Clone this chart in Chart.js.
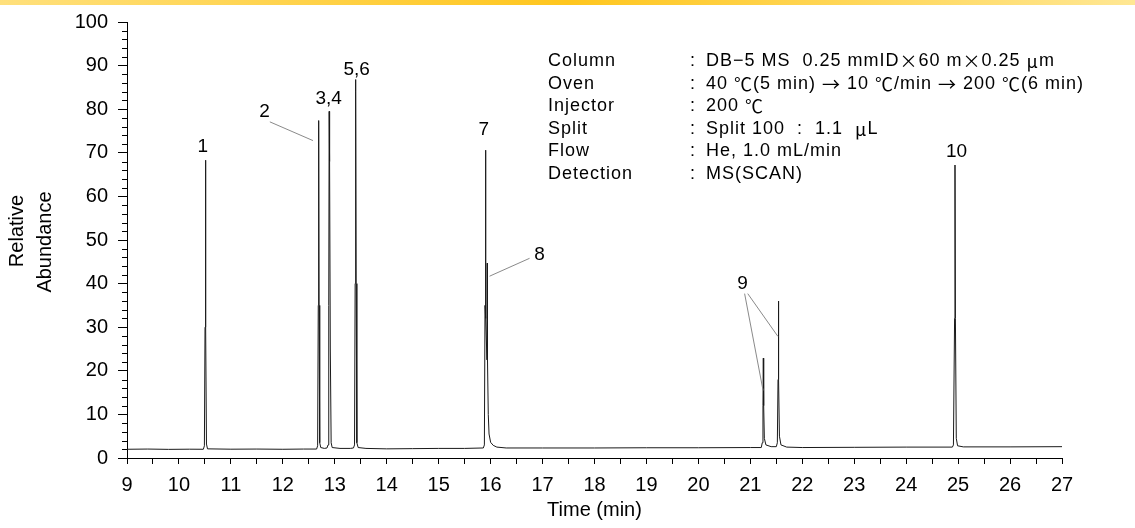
<!DOCTYPE html>
<html>
<head>
<meta charset="utf-8">
<script src="https://cdn.jsdelivr.net/npm/chart.js@4.4.1/dist/chart.umd.min.js"></script>
<style>
  html, body { margin: 0; padding: 0; background: #fff; }
  #wrap { width: 1135px; height: 528px; position: relative; }
</style>
</head>
<body>
<div id="wrap"><canvas id="myChart"></canvas></div>
<script>
// chromatogram trace (time in min, relative abundance)
const times = [
  9.00, 9.40, 9.80, 10.20, 10.47,
  10.49, 10.502, 10.51, 10.518, 10.53, 10.55, 11.00, 11.50, 12.00, 12.40, 12.65,
  12.67, 12.682, 12.69, 12.698, 12.71, 12.73, 12.80, 12.85,
  12.87, 12.884, 12.892, 12.896, 12.900, 12.904, 12.914, 12.93, 12.95, 13.10, 13.30, 13.36,
  13.38, 13.392, 13.40, 13.404, 13.412, 13.425, 13.45, 13.60, 14.00, 14.50, 15.00, 15.50, 15.86,
  15.88, 15.892, 15.90, 15.91, 15.93, 15.935, 15.94, 15.955, 15.97, 16.00, 16.05, 16.12, 16.30,
  17.00, 18.00, 19.00, 20.00, 21.00, 21.21,
  21.23, 21.243, 21.25, 21.257, 21.27, 21.30, 21.40, 21.50,
  21.52, 21.533, 21.54, 21.547, 21.56, 21.59, 21.70, 22.00, 23.00, 24.00, 24.89,
  24.91, 24.932, 24.94, 24.948, 24.965, 24.99, 25.10, 26.00, 27.00
];
const abundance = [
  2.00, 2.05, 1.98, 2.02, 2.00,
  2.8, 30, 68.3, 30, 3.2, 2.1, 2.02, 2.05, 2.00, 2.05, 2.05,
  2.8, 35, 77.4, 35, 3.5, 2.4, 2.2, 2.3,
  3.0, 35, 79.5, 68.7, 79.0, 68.0, 25, 3.5, 2.4, 2.2, 2.2, 2.3,
  3.0, 40, 86.8, 84, 40, 3.5, 2.4, 2.2, 2.1, 2.15, 2.2, 2.2, 2.3,
  3.0, 35, 70.6, 32, 22.5, 44.7, 22.5, 10, 5.5, 3.6, 2.9, 2.5, 2.3,
  2.3, 2.3, 2.35, 2.35, 2.4, 2.4,
  3.5, 12, 22.9, 12, 4.5, 3.0, 2.6, 2.6,
  3.5, 18, 36.0, 18, 5, 3.0, 2.5, 2.4, 2.45, 2.5, 2.5,
  3.0, 32, 67.2, 32, 4.5, 2.8, 2.55, 2.55, 2.6
];

// peak labels (placed in data coordinates)
const peakLabels = ["1", "2", "3,4", "5,6", "7", "8", "9", "10"];
const labelTimes = [10.457, 11.65, 12.883, 13.42, 15.87, 16.94, 20.85, 24.97];
const labelHeights = [71.4, 79.3, 82.3, 89.1, 75.2, 46.7, 40.0, 70.3];
// leader lines: [t1, v1, t2, v2]
const leaders = [
  [11.75, 77.1, 12.58, 72.8],
  [16.75, 45.8, 15.98, 41.7],
  [20.89, 37.7, 21.245, 15.5],
  [20.95, 37.7, 21.53, 27.9]
];

// conditions block
const condNames = ["Column", "Oven", "Injector", "Split", "Flow", "Detection"];
const condValues = [
  "DB−5 MS  0.25 mmID×60 m×0.25 μm",
  "40 ℃(5 min) → 10 ℃/min → 200 ℃(6 min)",
  "200 ℃",
  "Split 100  :  1.1  μL",
  "He, 1.0 mL/min",
  "MS(SCAN)"
];

const FONT = "'Liberation Sans', 'Noto Sans CJK JP', sans-serif";
const CJK = "'Noto Sans CJK JP', sans-serif";
const WIDE = "→×μ℃";

// draw text char by char, full-width symbols from the CJK font
function drawMixed(ctx, text, x, y, size) {
  for (const ch of text) {
    ctx.font = size + "px " + (WIDE.includes(ch) ? CJK : FONT);
    ctx.fillText(ch, x, y);
    x += ctx.measureText(ch).width + 1;
  }
}

const extras = {
  id: "extras",
  beforeDraw(chart) {
    const ctx = chart.ctx;
    ctx.save();
    ctx.fillStyle = "#fff";
    ctx.fillRect(0, 0, chart.width, chart.height);
    let band = ctx.createLinearGradient(0, 0, chart.width, 0);
    band.addColorStop(0, "#FFE07C");
    band.addColorStop(0.5, "#FFC61E");
    band.addColorStop(1, "#FFE793");
    ctx.fillStyle = band;
    ctx.fillRect(0, 0, chart.width, 5);
    ctx.restore();
  },
  afterDraw(chart) {
    const ctx = chart.ctx;
    const xs = chart.scales.x, ys = chart.scales.y;
    ctx.save();

    // minor y ticks
    ctx.strokeStyle = "#000";
    ctx.lineWidth = 1;
    for (let v = 0; v <= 100; v += 2) {
      if (v % 10 === 0) continue;
      const py = Math.round(ys.getPixelForValue(v)) + 0.5;
      ctx.beginPath();
      ctx.moveTo(xs.left - 5, py);
      ctx.lineTo(xs.left, py);
      ctx.stroke();
    }

    // leader lines
    ctx.strokeStyle = "#8a8a8a";
    leaders.forEach(l => {
      ctx.beginPath();
      ctx.moveTo(xs.getPixelForValue(l[0]), ys.getPixelForValue(l[1]));
      ctx.lineTo(xs.getPixelForValue(l[2]), ys.getPixelForValue(l[3]));
      ctx.stroke();
    });

    // peak labels
    ctx.fillStyle = "#000";
    ctx.font = "19px " + FONT;
    ctx.textAlign = "center";
    ctx.textBaseline = "middle";
    peakLabels.forEach((txt, i) => {
      ctx.fillText(txt, xs.getPixelForValue(labelTimes[i]), ys.getPixelForValue(labelHeights[i]));
    });

    // conditions
    ctx.textAlign = "left";
    condNames.forEach((n, i) => {
      const py = 61.5 + i * 22.5;
      drawMixed(ctx, n, 548, py, 18);
      drawMixed(ctx, ":", 690, py, 18);
      drawMixed(ctx, condValues[i], 706, py, 18);
    });

    // y axis title
    ctx.font = "20px " + FONT;
    ctx.textAlign = "center";
    ctx.translate(17, 231);
    ctx.rotate(-Math.PI / 2);
    ctx.fillText("Relative", 0, 0);
    ctx.rotate(Math.PI / 2);
    ctx.translate(28, 11);
    ctx.rotate(-Math.PI / 2);
    ctx.fillText("Abundance", 0, 0);
    ctx.restore();
  }
};

let chart = document.getElementById("myChart").getContext("2d");

const myChart = new Chart(chart, {
  type: "line",
  data: {
    datasets: [
      {
        label: "TIC",
        data: times.map((t, i) => ({ x: t, y: abundance[i] })),
        borderColor: "#1a1a1a",
        borderWidth: 1,
        pointRadius: 0,
        tension: 0,
        fill: false
      }
    ]
  },
  options: {
    responsive: true,
    maintainAspectRatio: false,
    animation: false,
    layout: { padding: { left: 0, right: 73, top: 17, bottom: 0 } },
    plugins: { legend: { display: false }, tooltip: { enabled: false } },
    scales: {
      x: {
        type: "linear",
        min: 9,
        max: 27,
        afterFit: (s) => { s.height = 70; },
        border: { color: "#000", width: 1 },
        grid: { drawOnChartArea: false, drawTicks: true, tickLength: 6, color: "#000" },
        ticks: {
          stepSize: 0.5,
          autoSkip: false,
          maxRotation: 0,
          padding: 9,
          color: "#000",
          font: { family: FONT, size: 20 },
          callback: (v) => (Number.isInteger(v) ? v : "")
        },
        title: {
          display: true,
          text: "Time (min)",
          color: "#000",
          font: { family: FONT, size: 20 },
          padding: { top: 0, bottom: 6 }
        }
      },
      y: {
        min: 0,
        max: 100,
        afterFit: (s) => { s.width = 127; },
        border: { color: "#000", width: 1 },
        grid: {
          drawOnChartArea: false,
          drawTicks: true,
          tickLength: 9,
          color: "#000",
          tickColor: (c) => (c.tick && c.tick.value % 10 === 0 ? "#000" : "rgba(0,0,0,0)")
        },
        ticks: {
          stepSize: 2,
          autoSkip: false,
          padding: 10,
          color: "#000",
          font: { family: FONT, size: 20 },
          callback: (v) => (v % 10 === 0 ? v : "")
        }
      }
    }
  },
  plugins: [extras]
});
window.myChart = myChart;
</script>
</body>
</html>
